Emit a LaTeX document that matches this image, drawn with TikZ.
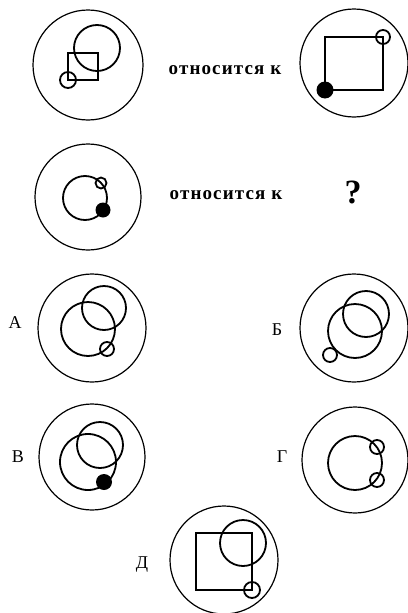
\documentclass[tikz,border=0pt]{standalone}
\usepackage{fontspec}
\setmainfont{Liberation Serif}
\setsansfont{Liberation Sans}

\begin{document}
\begin{tikzpicture}[x=1pt,y=-1pt,
        frame/.style={line width=1.2pt},
        part/.style={line width=1.8pt},
        relation/.style={font=\bfseries\fontsize{19}{19}\selectfont\addfontfeature{LetterSpace=6}},
        variant/.style={font=\fontsize{18}{18}\selectfont},
        query/.style={font=\bfseries\fontsize{34}{34}\selectfont},
    ]
    \useasboundingbox (0,0) rectangle (407,613);

    % first pair
    \draw[frame] (88,65) circle (55);
    \draw[part] (97,48) circle (23);
    \draw[part] (68,53) rectangle (98,80);
    \draw[part] (68,80) circle (8);
    \node (relFirst) [relation] at (225,70) {относится к};

    \draw[frame] (354,63) circle (54);
    \draw[part] (325,37) rectangle (383,90);
    \draw[part] (383,37) circle (7);
    \fill (325,90) circle (8.5);

    % second pair
    \draw[frame] (88,197) circle (53);
    \draw[part] (85,198) circle (22);
    \draw[part] (101,183) circle (5.5);
    \fill (103,210) circle (7.5);
    \node (relSecond) [relation] at (226,195) {относится к};
    \node (unknown) [query] at (353,192) {?};

    % answers
    \node (labelA) [variant] at (15,323) {А};
    \draw[frame] (92,328) circle (54);
    \draw[part] (88,329) circle (27);
    \draw[part] (104,308) circle (22);
    \draw[part] (107,349) circle (7);

    \node (labelB) [variant] at (277,330) {Б};
    \draw[frame] (354,328) circle (54);
    \draw[part] (355,331) circle (27);
    \draw[part] (366,314) circle (23);
    \draw[part] (330,355) circle (7);

    \node (labelV) [variant] at (18,457) {В};
    \draw[frame] (92,457) circle (53);
    \draw[part] (88,462) circle (28);
    \draw[part] (100,445) circle (23);
    \fill (104,482) circle (8);

    \node (labelG) [variant] at (282,457) {Г};
    \draw[frame] (355,460) circle (53);
    \draw[part] (355,463) circle (27);
    \draw[part] (377,447) circle (7);
    \draw[part] (377,480) circle (7);

    \node (labelD) [variant] at (142,565) {Д};
    \draw[frame] (224,560) circle (54);
    \draw[part] (196,533) rectangle (252,590);
    \draw[part] (243,543) circle (23);
    \draw[part] (252,590) circle (8);
\end{tikzpicture}
\end{document}
